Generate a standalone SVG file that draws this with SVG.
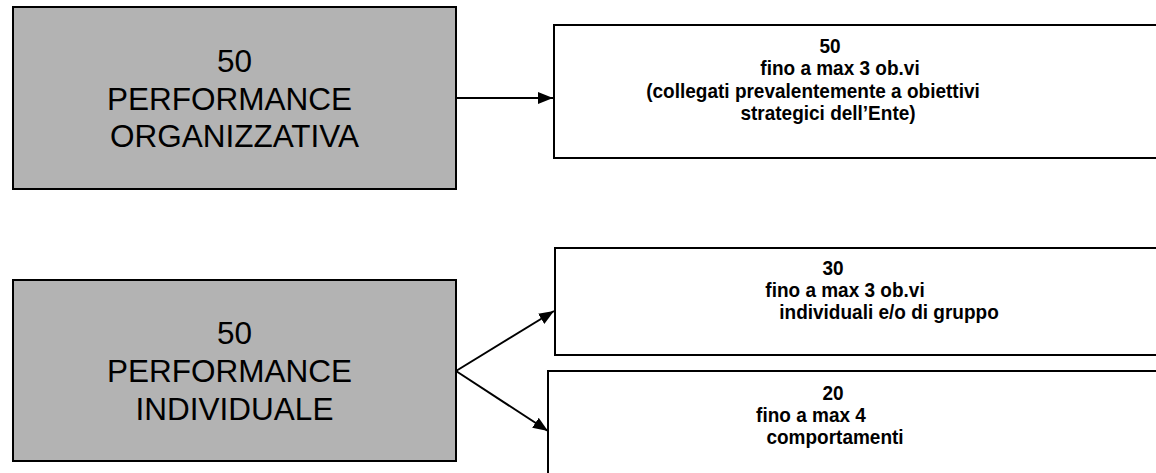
<svg xmlns="http://www.w3.org/2000/svg" width="1156" height="473" viewBox="0 0 1156 473">
  <style>
    .gray { fill: #b3b3b3; stroke: #000; stroke-width: 2; }
    .white { fill: #fff; stroke: #000; stroke-width: 2; }
    .big { font-family: "Liberation Sans", Arial, sans-serif; font-size: 31.5px; fill: #000; text-anchor: middle; }
    .small { font-family: "Liberation Sans", Arial, sans-serif; font-size: 20px; font-weight: bold; fill: #000; text-anchor: middle; }
    .conn { stroke: #000; stroke-width: 2; fill: none; }
  </style>
  <defs>
    <marker id="arr" viewBox="0 0 15 12" refX="15" refY="6" markerWidth="15" markerHeight="12" markerUnits="userSpaceOnUse" orient="auto">
      <path d="M0,0 L15,6 L0,12 Z" fill="#000"/>
    </marker>
  </defs>
  <rect width="1156" height="473" fill="#fff"/>

  <g id="node-org">
    <rect class="gray" x="13" y="7" width="443" height="182"/>
    <text class="big" x="234.5" y="72">50</text>
    <text class="big" x="229.5" y="110">PERFORMANCE</text>
    <text class="big" x="234.5" y="147">ORGANIZZATIVA</text>
  </g>

  <g id="node-ind">
    <rect class="gray" x="13" y="280" width="443" height="181"/>
    <text class="big" x="234.5" y="344">50</text>
    <text class="big" x="229.5" y="382">PERFORMANCE</text>
    <text class="big" x="234.5" y="420">INDIVIDUALE</text>
  </g>

  <g id="node-org-obiettivi">
    <rect class="white" x="554" y="25" width="620" height="133"/>
    <text class="small" transform="translate(830 52.5) scale(0.95 1)">50</text>
    <text class="small" transform="translate(840 75) scale(0.95 1)">fino a max 3 ob.vi</text>
    <text class="small" transform="translate(813 97.5) scale(0.95 1)">(collegati prevalentemente a obiettivi</text>
    <text class="small" transform="translate(828 120) scale(0.95 1)">strategici dell’Ente)</text>
  </g>

  <g id="node-ind-obiettivi">
    <rect class="white" x="555" y="248" width="620" height="107"/>
    <text class="small" transform="translate(833 275) scale(0.95 1)">30</text>
    <text class="small" transform="translate(845 297) scale(0.95 1)">fino a max 3 ob.vi</text>
    <text class="small" transform="translate(889 319) scale(0.95 1)">individuali e/o di gruppo</text>
  </g>

  <g id="node-ind-comportamenti">
    <rect class="white" x="548" y="371" width="620" height="120"/>
    <text class="small" transform="translate(833 399.5) scale(0.95 1)">20</text>
    <text class="small" transform="translate(811 421.5) scale(0.95 1)">fino a max 4</text>
    <text class="small" transform="translate(835 444) scale(0.95 1)">comportamenti</text>
  </g>

  <g id="connectors">
    <line class="conn" x1="456" y1="98" x2="553" y2="98" marker-end="url(#arr)"/>
    <line class="conn" x1="456" y1="371" x2="554" y2="311" marker-end="url(#arr)"/>
    <line class="conn" x1="456" y1="371" x2="548" y2="431" marker-end="url(#arr)"/>
  </g>
</svg>
